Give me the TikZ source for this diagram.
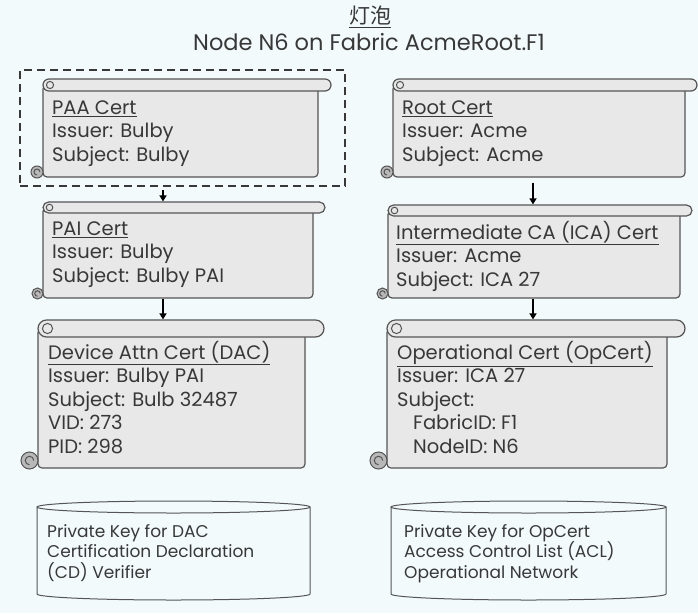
\documentclass[tikz,border=0pt]{standalone}
\usepackage{fontspec}
\setmainfont{Poppins}
\newfontfamily\cjk{Noto Sans CJK SC}
\usetikzlibrary{fit,arrows.meta}

\definecolor{bgcol}{HTML}{F2FAFB}
\definecolor{scrollfill}{HTML}{E8E8E8}
\definecolor{curlfill}{HTML}{B8B8B8}
\definecolor{linecol}{HTML}{555555}
\definecolor{txtcol}{HTML}{383838}

\tikzset{
    scrollbody/.style={draw=linecol, line width=1.2pt, fill=scrollfill, rounded corners=4pt, inner sep=0pt},
    scrollbar/.style={draw=linecol, line width=1.2pt, fill=scrollfill, inner sep=0pt},
    curlline/.style={draw=linecol, line width=1pt},
    certtext/.style={text=txtcol, align=left, inner sep=0pt, anchor=north west, font=\fontsize{19.5}{23.5}\selectfont},
    keytext/.style={text=txtcol, align=left, inner sep=0pt, anchor=north west, font=\fontsize{17}{20.5}\selectfont},
    keystore/.style={draw=linecol, line width=1pt, fill=bgcol},
    paaframe/.style={draw=txtcol, line width=1.8pt, dash pattern=on 8pt off 5pt, inner sep=0pt},
    chain/.style={line width=1.6pt, -{Triangle[length=6pt,width=7pt]}}
}

% name, left, bar top, bar bottom, bar right, body right, body bottom
\newcommand\certscroll[7]{%
    \pgfmathsetmacro\barh{#4-#3}
    \pgfmathsetmacro\barmid{(#3+#4)/2}
    \pgfmathsetmacro\curlx{#2-\barh/2}
    \pgfmathsetmacro\curly{#7-\barh/2+1}
    \pgfmathsetlengthmacro\curlr{\barh/2*1pt}
    \pgfmathsetlengthmacro\hookr{\barh/4*1pt}
    \pgfmathsetlengthmacro\topr{0.3*\barh*1pt}
    \pgfmathsetlengthmacro\barr{\barh/2*1pt}
    \node[scrollbody, fit={(#2,\barmid) (#6,#7)}] (#1) {};
    \node[scrollbar, rounded corners=\barr, fit={(#2,#3) (#5,#4)}] (#1-bar) {};
    \draw[curlline, fill=scrollfill] (#2+\barh/2+1,\barmid) circle (\topr);
    \draw[curlline, fill=curlfill] (\curlx,\curly) circle (\curlr);
    \draw[curlline] (\curlx+\barh/4,\curly) arc[start angle=0, end angle=270, radius=\hookr];
}

\begin{document}
\begin{tikzpicture}[x=1pt, y=-1pt]
    \fill[bgcol] (0,0) rectangle (698,613);
    \useasboundingbox (0,0) rectangle (698,613);

    \node[text=txtcol, font=\cjk\fontsize{21}{24}\selectfont] (title-cn) at (370,17) {\underline{灯泡}};
    \node[text=txtcol, anchor=base, font=\fontsize{22.5}{26}\selectfont] (title) at (369,50) {Node N6 on Fabric AcmeRoot.F1};

    % left chain
    \node[paaframe, fit={(20,70) (345,186)}] (paabox) {};
    \certscroll{paa}{43}{79}{91}{331}{318}{177}
    \certscroll{pai}{43}{202}{213}{325}{313}{298}
    \certscroll{dac}{38}{320}{337}{324}{305}{468}

    \node[certtext] (paa-txt) at (52,98) {\rule{0pt}{16pt}\underline{PAA Cert}\\Issuer: Bulby\\Subject: Bulby};
    \node[certtext] (pai-txt) at (52,219) {\rule{0pt}{16pt}\underline{PAI Cert}\\Issuer: Bulby\\Subject: Bulby PAI};
    \node[certtext] (dac-txt) at (48,341) {\rule{0pt}{16pt}\underline{Device Attn Cert (DAC)}\\Issuer: Bulby PAI\\Subject: Bulb 32487\\VID: 273\\PID: 298};

    % right chain
    \certscroll{root}{393}{79}{91}{697}{685}{177}
    \certscroll{ica}{388}{205}{216}{692}{680}{298}
    \certscroll{op}{387}{320}{337}{685}{667}{468}

    \node[certtext] (root-txt) at (402,98) {\rule{0pt}{16pt}\underline{Root Cert}\\Issuer: Acme\\Subject: Acme};
    \node[certtext] (ica-txt) at (396,221) {\rule{0pt}{16pt}\underline{Intermediate CA (ICA) Cert}\\Issuer: Acme\\Subject: ICA 27};
    \node[certtext] (op-txt) at (397,341) {\rule{0pt}{16pt}\underline{Operational Cert (OpCert)}\\Issuer: ICA 27\\Subject:\\\hspace*{16pt}FabricID: F1\\\hspace*{16pt}NodeID: N6};

    \coordinate (colL) at (163,0);
    \coordinate (colR) at (533,0);
    \draw[chain, shorten <=3pt] (paabox.south -| colL) -- (pai-bar.north -| colL);
    \draw[chain] (pai.south -| colL) -- (dac-bar.north -| colL);
    \draw[chain, shorten <=5pt] (root.south -| colR) -- (ica-bar.north -| colR);
    \draw[chain] (ica.south -| colR) -- (op-bar.north -| colR);

    % key stores
    \draw[keystore] (37,507) -- (37,594) arc[start angle=180, end angle=360, x radius=136.5pt, y radius=6pt] -- (310,507);
    \draw[keystore] (173.5,507) ellipse [x radius=136.5pt, y radius=6pt];
    \draw[keystore] (391,507) -- (391,594) arc[start angle=180, end angle=360, x radius=137.5pt, y radius=6pt] -- (666,507);
    \draw[keystore] (528.5,507) ellipse [x radius=137.5pt, y radius=6pt];

    \node[keytext] (dac-key) at (47,523) {\rule{0pt}{14pt}Private Key for DAC\\Certification Declaration\\(CD) Verifier};
    \node[keytext] (op-key) at (404,523) {\rule{0pt}{14pt}Private Key for OpCert\\Access Control List (ACL)\\Operational Network};
\end{tikzpicture}
\end{document}
